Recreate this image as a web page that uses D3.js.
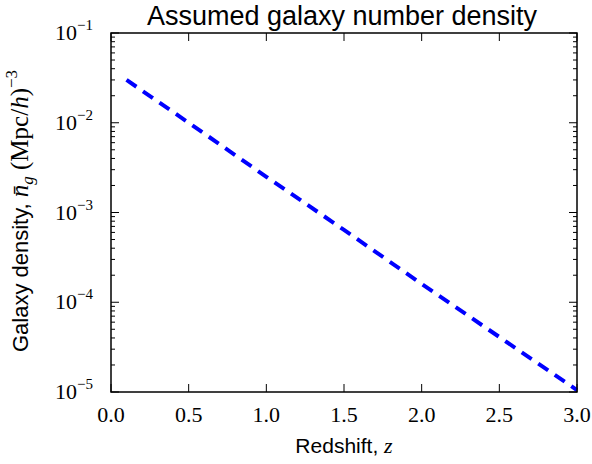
<!DOCTYPE html>
<html>
<head>
<meta charset="utf-8">
<script src="https://cdn.jsdelivr.net/npm/d3@7"></script>
<style>
  body { margin: 0; background: #fff; }
  .tick-label { font-family: "Liberation Serif", "DejaVu Serif", serif; fill: #000; }
  .sans { font-family: "Liberation Sans", Arial, sans-serif; fill: #000; }
</style>
</head>
<body>
<div id="chart"></div>
<script>
// data
let redshift = [0.1, 0.5, 1.0, 1.5, 2.0, 2.5, 3.0];
let density = [3.0e-2, 1.0e-2, 2.5e-3, 6.4e-4, 1.6e-4, 4.1e-5, 1.05e-5];
let xTicks = [0.0, 0.5, 1.0, 1.5, 2.0, 2.5, 3.0];
let yTickExp = [-5, -4, -3, -2, -1];

let width = 592, height = 464;
let margin = { top: 33, right: 15, bottom: 72, left: 111 };
let w = width - margin.left - margin.right;
let h = height - margin.top - margin.bottom;

let x = d3.scaleLinear().domain([0, 3]).range([0, w]);
let y = d3.scaleLog().domain([1e-5, 1e-1]).range([h, 0]);

let svg = d3.select("#chart").append("svg")
    .attr("width", width).attr("height", height);

let g = svg.append("g")
    .attr("transform", "translate(" + margin.left + "," + margin.top + ")");

// minor log ticks (2..9 in each decade)
let minor = [];
yTickExp.slice(0, -1).forEach(e => {
    for (let k = 2; k <= 9; k++) minor.push(k * Math.pow(10, e));
});
let major = yTickExp.map(e => Math.pow(10, e));

let ticks = g.append("g").attr("stroke", "#000").attr("stroke-width", 1);
// x ticks bottom + top
xTicks.forEach(t => {
    ticks.append("line").attr("x1", x(t)).attr("x2", x(t)).attr("y1", h).attr("y2", h - 8);
    ticks.append("line").attr("x1", x(t)).attr("x2", x(t)).attr("y1", 0).attr("y2", 8);
});
// y ticks left + right
major.forEach(v => {
    ticks.append("line").attr("x1", 0).attr("x2", 8).attr("y1", y(v)).attr("y2", y(v));
    ticks.append("line").attr("x1", w).attr("x2", w - 8).attr("y1", y(v)).attr("y2", y(v));
});
minor.forEach(v => {
    ticks.append("line").attr("x1", 0).attr("x2", 4).attr("y1", y(v)).attr("y2", y(v));
    ticks.append("line").attr("x1", w).attr("x2", w - 4).attr("y1", y(v)).attr("y2", y(v));
});

// x tick labels
g.selectAll(".xlab").data(xTicks).enter().append("text")
    .attr("class", "tick-label")
    .attr("x", d => x(d))
    .attr("y", h + 30)
    .attr("text-anchor", "middle")
    .style("font-size", "22px")
    .text(d => d.toFixed(1));

// y tick labels 10^e
let ylab = g.selectAll(".ylab").data(yTickExp).enter().append("text")
    .attr("class", "tick-label")
    .attr("x", -18)
    .attr("y", d => y(Math.pow(10, d)) + 7)
    .attr("text-anchor", "end")
    .style("font-size", "22px");
ylab.append("tspan").text("10");
ylab.append("tspan").attr("dy", -10).style("font-size", "15px").text(d => "\u2212" + (-d));

// the line
let line = d3.line().x((d, i) => x(redshift[i])).y(d => y(d));
g.append("path")
    .datum(density)
    .attr("d", line)
    .attr("fill", "none")
    .attr("stroke", "#0000ff")
    .attr("stroke-width", 4)
    .attr("stroke-dasharray", "12,8");

// frame
g.append("rect").attr("width", w).attr("height", h)
    .attr("fill", "none").attr("stroke", "#000").attr("stroke-width", 1.5);

// title
svg.append("text").attr("class", "sans")
    .attr("x", margin.left + w / 2 - 2).attr("y", 25)
    .attr("text-anchor", "middle")
    .style("font-size", "27px")
    .text("Assumed galaxy number density");

// x label
let xl = svg.append("text").attr("class", "sans")
    .attr("x", margin.left + w / 2).attr("y", 453)
    .attr("text-anchor", "middle")
    .style("font-size", "21px");
xl.append("tspan").text("Redshift, ");
xl.append("tspan").style("font-family", "Liberation Serif, serif").style("font-style", "italic").style("font-size", "22px").text("z");

// y label
let serif = "Liberation Serif, serif";
let yl = svg.append("text").attr("class", "sans")
    .attr("transform", "translate(28,211) rotate(-90)")
    .attr("text-anchor", "middle")
    .style("font-size", "22px");
yl.append("tspan").text("Galaxy density, ");
yl.append("tspan").style("font-family", serif).style("font-style", "italic").style("font-size", "25px").text("n\u0304");
yl.append("tspan").attr("dy", 5).style("font-family", serif).style("font-style", "italic").style("font-size", "17px").text("g");
yl.append("tspan").attr("dy", -5).style("font-family", serif).style("font-size", "25px").text(" (Mpc/");
yl.append("tspan").style("font-family", serif).style("font-style", "italic").style("font-size", "25px").text("h");
yl.append("tspan").style("font-family", serif).style("font-size", "25px").text(")");
yl.append("tspan").attr("dy", -11).style("font-family", serif).style("font-size", "17px").text("\u22123");
</script>
</body>
</html>
